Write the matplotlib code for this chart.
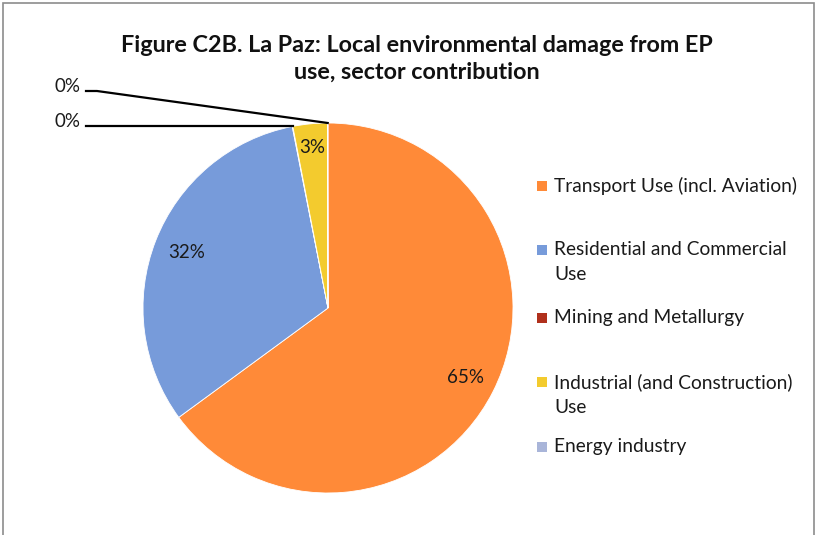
#! /usr/bin/env python3

import matplotlib
matplotlib.use("Agg")
import matplotlib.pyplot as plt
from matplotlib.patches import Rectangle
import numpy

"""
Data
"""

sectors = ["Transport Use (incl. Aviation)",
           "Residential and Commercial\nUse",
           "Mining and Metallurgy",
           "Industrial (and Construction)\nUse",
           "Energy industry"]
shares  = [65.0, 32.0, 0.05, 3.0, 0.05]
colors  = ["#FF8A38", "#779BDA", "#B0301C", "#F3CB2E", "#A9B5D9"]
title   = "Figure C2B. La Paz: Local environmental damage from EP\nuse, sector contribution"

plt.rcParams["font.family"] = ["Lato", "DejaVu Sans"]

W, H = 821, 535
fig = plt.figure(figsize=(W / 100, H / 100), dpi=100)

# pie centre (328, 308) px, radius 185 px
cx, cy, r = 328, 308, 185
ax = fig.add_axes([(cx - r) / W, (H - cy - r) / H, 2 * r / W, 2 * r / H])

wedges, _ = ax.pie(shares, colors=colors, startangle=90, counterclock=False,
                   radius=1.0, wedgeprops=dict(linewidth=0.6, edgecolor="white"))
ax.set_xlim(-1, 1)
ax.set_ylim(-1, 1)
ax.axis("off")

# percentage labels
label_r = [0.835, 0.82, None, 0.87, None]
for w, s, lr in zip(wedges, shares, label_r):
    a = numpy.deg2rad((w.theta1 + w.theta2) / 2)
    if lr is not None:
        ax.text(lr * numpy.cos(a), lr * numpy.sin(a), "%d%%" % round(s),
                ha="center", va="center", fontsize=13.5, color="#1a1a1a")

# small slices with leader lines
small = [(4, 91), (2, 126)]
for i, ty in small:
    w = wedges[i]
    a = numpy.deg2rad((w.theta1 + w.theta2) / 2)
    px, py = numpy.cos(a), numpy.sin(a)
    tx = (86 - cx) / r
    tyd = (cy - ty) / r
    kx = (97 - cx) / r if i == 4 else px
    ax.plot([tx, kx, px], [tyd, tyd, py], color="black", lw=1.6, clip_on=False)
    ax.text(tx - 0.03, tyd + 0.025, "0%", ha="right", va="center",
            fontsize=13.5, color="#1a1a1a")

fig.text(417 / W, 1 - 59 / H, title, ha="center", va="center",
         fontsize=16.8, fontweight="bold", linespacing=1.35, color="#111111")

# legend
leg_y = [186, 250, 318, 382, 447]
for name, c, y in zip(sectors, colors, leg_y):
    fig.patches.append(Rectangle((537 / W, 1 - (y + 5) / H), 10 / W, 10 / H,
                                 transform=fig.transFigure, facecolor=c,
                                 edgecolor="none"))
    fig.text(554 / W, 1 - (y - 9) / H, name, ha="left", va="top",
             fontsize=13.8, linespacing=1.55, color="#1a1a1a")

# chart frame
fig.patches.append(Rectangle((3 / W, -0.05), 811 / W, 1 - 3 / H + 0.05,
                             transform=fig.transFigure, facecolor="none",
                             edgecolor="#8c8c8c", linewidth=1.2))

fig.savefig("out.png", dpi=100)
